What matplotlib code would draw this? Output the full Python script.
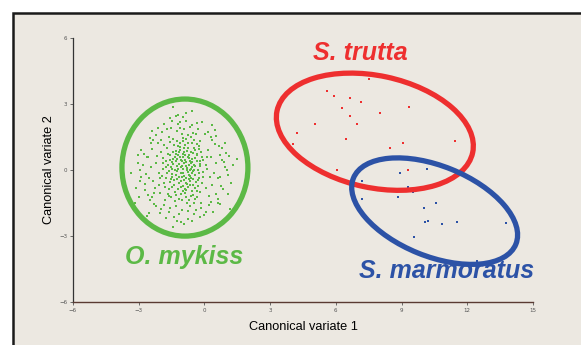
import numpy as np
import matplotlib
matplotlib.use("Agg")
import matplotlib.pyplot as plt
from matplotlib.patches import Ellipse, Rectangle

# --- data (canonical variate scores) ---
trutta_x = [7.50, 5.58, 5.93, 6.66, 7.15, 6.28, 9.36, 8.02, 6.66, 5.05, 6.95,
            4.24, 6.48, 9.08, 11.46, 4.06, 8.47, 6.05, 9.28]
trutta_y = [4.15, 3.60, 3.36, 3.26, 3.08, 2.83, 2.88, 2.58, 2.45, 2.08, 2.08,
            1.70, 1.41, 1.24, 1.33, 1.17, 0.99, -0.01, -0.01]

marm_x = [8.93, 10.15, 7.21, 9.31, 9.51, 7.21, 8.83, 10.59, 10.04, 10.09,
          10.22, 10.85, 11.55, 13.76, 9.56, 12.45]
marm_y = [-0.12, 0.06, -0.50, -0.76, -0.99, -1.30, -1.24, -1.49, -1.71, -2.35,
          -2.32, -2.44, -2.35, -2.42, -3.05, -4.14]

mykiss_pts = [
    (-1.45, 2.88), (-0.58, 2.66), (-1.21, 2.50), (-1.10, 2.20), (-0.84, 2.23),
    (-0.36, 2.12), (0.34, 2.05), (-2.41, 1.79), (-1.53, 1.93), (1.47, 0.50),
    (-3.35, -0.15), (-3.17, -1.51), (-1.42, -2.57), (-1.07, -2.37), (1.17, -1.77),
    (0.28, -1.47), (0.63, -1.51), (-2.64, -2.09), (-2.03, -1.97), (0.94, 0.15),
    (1.01, 0.00), (0.79, 0.99), (0.98, 0.79), (0.71, -0.30), (-2.94, 0.00),
    (-2.97, -1.21), (-2.72, -0.91), (-2.49, -1.36), (-2.33, 1.37), (-2.56, 0.61),
    (-0.95, 0.31), (-0.62, 0.05), (-1.24, 0.48), (-0.71, -0.42), (-1.53, 0.12),
    (-0.33, 0.66), (-0.88, -0.87), (-1.12, 1.03), (-0.45, -0.21), (-1.76, -0.35),
    (-0.21, 0.27), (-1.37, -0.69), (-0.79, 0.88), (-0.58, 1.24), (-1.05, -0.15),
    (-1.91, 0.55), (-0.12, -0.58), (-1.28, -1.12), (-0.67, 0.42), (-0.99, 0.71),
    (-1.44, 0.84), (-0.36, -0.95), (-0.84, 0.16), (-1.62, -0.88), (-0.05, 0.44),
    (-0.93, -0.44), (-1.18, 0.29), (-0.54, -0.68), (-1.71, 0.98), (-0.27, 1.08),
    (-1.02, -1.36), (-0.74, -0.08), (-1.33, 0.61), (-0.49, 0.21), (-2.08, -0.12),
    (0.12, 0.04), (-0.86, 1.41), (-1.47, -0.32), (-0.63, -1.18), (-1.15, -0.58),
    (-0.41, 0.93), (-2.21, 0.34), (0.25, -0.31), (-0.97, 0.57), (-1.59, 1.27),
    (-0.78, -0.62), (-1.26, -0.04), (-0.16, 0.81), (-1.83, -0.61), (-0.69, 0.67),
    (-1.08, 0.14), (-0.52, -0.41), (-1.41, 1.15), (-0.89, -1.05), (-0.29, 0.02),
    (-1.66, 0.23), (-0.61, 1.52), (-1.21, -0.86), (0.05, -0.82), (-0.82, 0.37),
    (-1.97, 0.81), (-0.43, -1.31), (-1.11, 0.91), (-0.72, 0.22), (-1.52, -1.22),
    (-0.24, -0.14), (-1.31, 0.41), (-0.91, -0.25), (-0.57, 0.51), (-2.34, -0.48),
    (0.31, 0.59), (-1.04, 1.62), (-0.38, -0.56), (-1.69, -0.15), (-0.81, -1.51),
    (-1.23, 1.34), (-0.47, 1.36), (-2.02, -1.03), (0.42, -0.12), (-0.66, -0.27),
    (-1.39, -0.47), (-0.98, 0.03), (-0.18, -1.02), (-1.57, 0.67), (-0.87, 1.12),
    (-1.29, -1.62), (-0.51, 0.76), (-2.15, 0.62), (0.18, 0.92), (-0.76, -0.79),
    (-1.16, -0.33), (-0.34, 0.39), (-1.81, -1.35), (-0.64, -1.63), (-1.46, 0.03),
    (-0.99, -0.71), (0.08, 0.25), (-1.07, 0.45), (-0.58, -0.94), (-1.63, 1.51),
    (-0.22, 1.31), (-2.45, 0.15), (0.53, 0.31), (-0.94, 1.86), (-1.35, -0.98),
    (-0.46, -0.02), (-1.89, 0.04), (-0.73, 0.99), (-1.19, 0.68), (-0.31, -0.73),
    (-1.55, -0.56), (-0.85, -0.36), (0.35, -0.66), (-1.01, -1.82), (-0.55, 0.12),
    (-1.75, 0.42), (-0.39, 1.64), (-2.26, -0.82), (0.62, -0.35), (-1.13, 1.22),
    (-0.68, -0.52), (-1.43, 0.52), (-0.92, 0.84), (-0.11, 0.58), (-1.61, -0.04),
    (-0.83, -1.22), (-1.27, 0.19), (-0.44, 0.55), (-2.52, -0.35), (0.71, 0.68),
    (-1.06, -0.52), (-0.60, 0.32), (-1.85, 1.12), (-0.26, -0.38), (-1.36, -1.41),
    (-0.77, 1.58), (-1.48, -0.16), (-0.96, -0.94), (0.22, -1.18), (-1.20, 0.04),
    (-0.53, -1.12), (-2.11, 1.21), (-0.08, -0.09), (-1.67, -1.08), (-0.70, 0.55),
    (-1.09, -1.11), (-0.35, 1.19), (-2.62, 0.58), (0.46, 1.18), (-0.88, 0.46),
    (-1.32, 0.88), (-0.48, -1.52), (-1.78, -0.78), (-0.65, 0.02), (-1.24, 1.76),
    (-0.14, -1.48), (-2.39, -1.21), (0.85, -0.86), (-1.00, 1.31), (-0.59, -0.13),
    (-1.50, 0.36), (-0.81, -0.01), (-1.95, -0.28), (-0.19, 0.19), (-1.14, -1.98),
    (-0.75, -1.87), (0.61, -1.32), (-1.58, -1.73), (-0.37, -1.81), (-2.71, -0.62),
    (0.95, 0.12), (-2.88, 0.92), (-1.93, 1.72), (-0.55, 2.05), (0.55, 1.56),
    (-2.50, 1.45), (-2.20, -1.65), (-0.20, -2.15), (-1.75, -2.20), (0.80, 0.45),
    (-3.05, 0.30), (-2.95, -0.50), (1.20, -0.60), (0.15, 1.75), (-1.85, 2.10),
    (-1.30, 2.45), (-0.95, -2.45), (0.40, -1.90), (-2.55, -1.95),
    # outer ring of the cloud
    (-2.82, 0.21), (-2.66, -0.18), (-2.41, 0.94), (-2.28, -1.04), (-2.19, 1.58),
    (-2.07, -0.67), (-1.98, 1.38), (-1.86, -1.58), (-1.72, 1.86), (-1.64, -1.92),
    (-1.49, 2.21), (-1.38, -2.12), (-1.19, 2.08), (-0.98, 2.41), (-0.76, -2.21),
    (-0.66, 1.96), (-0.49, -1.98), (-0.31, 1.87), (-0.17, -1.71), (0.03, 1.62),
    (0.19, -1.59), (0.36, 1.36), (0.51, -1.09), (0.66, 1.09), (0.77, -0.71),
    (0.89, 0.38), (1.06, -0.22), (1.12, 0.62), (0.29, 1.49), (-0.02, -2.04),
    (-2.90, -0.31), (-2.75, 0.71), (-2.58, -1.12), (-2.44, 1.21), (-2.31, -1.55),
    (-2.13, 1.92), (-1.99, -1.79), (-1.57, 2.38), (-1.27, -2.31), (-0.84, 2.61),
    (-0.57, -2.31), (-0.11, 2.16), (0.09, -1.92), (0.48, 1.81), (0.72, -1.56),
    (0.93, 1.24), (1.09, -1.08), (1.31, 0.21), (-3.12, -0.84), (-3.02, 0.68),
    # extra centre density
    (-1.02, 0.18), (-0.77, 0.61), (-1.31, -0.22), (-0.52, -0.03), (-1.17, 0.82),
    (-0.86, -0.58), (-1.42, 0.27), (-0.63, 0.82), (-1.03, -0.31), (-0.41, 0.17),
    (-1.58, 0.46), (-0.92, 1.02), (-0.71, -0.21), (-1.25, -0.43), (-0.35, 0.72),
    (-1.12, 0.59), (-0.79, 0.08), (-1.49, -0.77), (-0.56, 0.38), (-0.99, -0.12),
    (-1.68, 0.71), (-0.28, -0.47), (-1.22, 1.11), (-0.83, -0.91), (-0.47, 1.02),
    (-1.36, 0.02), (-0.67, -0.68), (-1.04, 0.39), (-0.19, 0.41), (-1.53, -0.41),
    (-0.89, 0.69), (-0.61, -0.36), (-1.29, 0.74), (-0.74, 1.21), (-1.08, -0.79),
    (-0.42, -0.84), (-1.74, 0.12), (-0.96, 1.47), (-0.23, 0.96), (-1.61, -1.18),
    (-0.54, 1.69), (-1.18, -1.31), (-0.07, -0.31), (-1.88, 0.33), (-0.71, -1.38),
    (-1.43, 1.43), (0.14, 0.61), (-2.03, -0.38), (-0.33, -1.21), (-1.12, 1.91),
]
mykiss_x = [p[0] for p in mykiss_pts]
mykiss_y = [p[1] for p in mykiss_pts]

# group ellipses: centre x, centre y, width, height, angle
ell_names = ["O. mykiss", "S. trutta", "S. marmoratus"]
ell_cx = [-0.89, 7.78, 10.51]
ell_cy = [0.11, 1.74, -1.87]
ell_w = [5.75, 9.13, 8.0]
ell_h = [6.23, 5.09, 4.1]
ell_ang = [0, -12, -22]

label_x = [-0.93, 7.1, 11.05]
label_y = [-3.95, 5.3, -4.6]

xticks = [-6, -3, 0, 3, 6, 9, 12, 15]
yticks = [-6, -3, 0, 3, 6]

green = "#5cb946"
red = "#ee2f2f"
blue = "#2c52a6"
cols = [green, red, blue]

fig = plt.figure(figsize=(5.81, 3.45), dpi=100)
fig.patch.set_facecolor("white")
# beige slide panel with black border
panel = Rectangle((13 / 581, -0.05), 1.1, 1 - 13 / 345 + 0.05, transform=fig.transFigure,
                  facecolor="#ece8e1", edgecolor="#1a1a1a", linewidth=1.8, zorder=-10)
fig.patches.append(panel)

ax = fig.add_axes([73 / 581, 1 - 302 / 345, 460 / 581, 264 / 345])
ax.set_facecolor("none")
ax.set_xlim(-6, 15)
ax.set_ylim(-6, 6)

ax.scatter(mykiss_x, mykiss_y, s=3.5, color=green, marker="s", linewidths=0)
ax.scatter(trutta_x, trutta_y, s=3.5, color=red, marker="s", linewidths=0)
ax.scatter(marm_x, marm_y, s=3.5, color=blue, marker="s", linewidths=0)

for i in range(3):
    e = Ellipse((ell_cx[i], ell_cy[i]), ell_w[i], ell_h[i], angle=ell_ang[i],
                fill=False, edgecolor=cols[i], linewidth=3.8, clip_on=False)
    ax.add_patch(e)
    ax.text(label_x[i], label_y[i], ell_names[i], color=cols[i], fontsize=18,
            fontweight="bold", fontstyle="italic", family="Liberation Sans",
            ha="center", va="center")

for s in ["top", "right"]:
    ax.spines[s].set_visible(False)
ax.spines["left"].set_color("#333333")
ax.spines["bottom"].set_color("#5a3a32")
ax.spines["left"].set_linewidth(0.9)
ax.spines["bottom"].set_linewidth(1.0)

ax.set_xticks(xticks)
ax.set_yticks(yticks)
ax.tick_params(labelsize=4, length=2, width=0.6, colors="#555555", pad=2)

ax.set_xlabel("Canonical variate 1", fontsize=9.2, family="Liberation Sans", labelpad=6)
ax.set_ylabel("Canonical variate 2", fontsize=9.2, family="Liberation Sans", labelpad=3)

fig.savefig("out.png", dpi=100)
